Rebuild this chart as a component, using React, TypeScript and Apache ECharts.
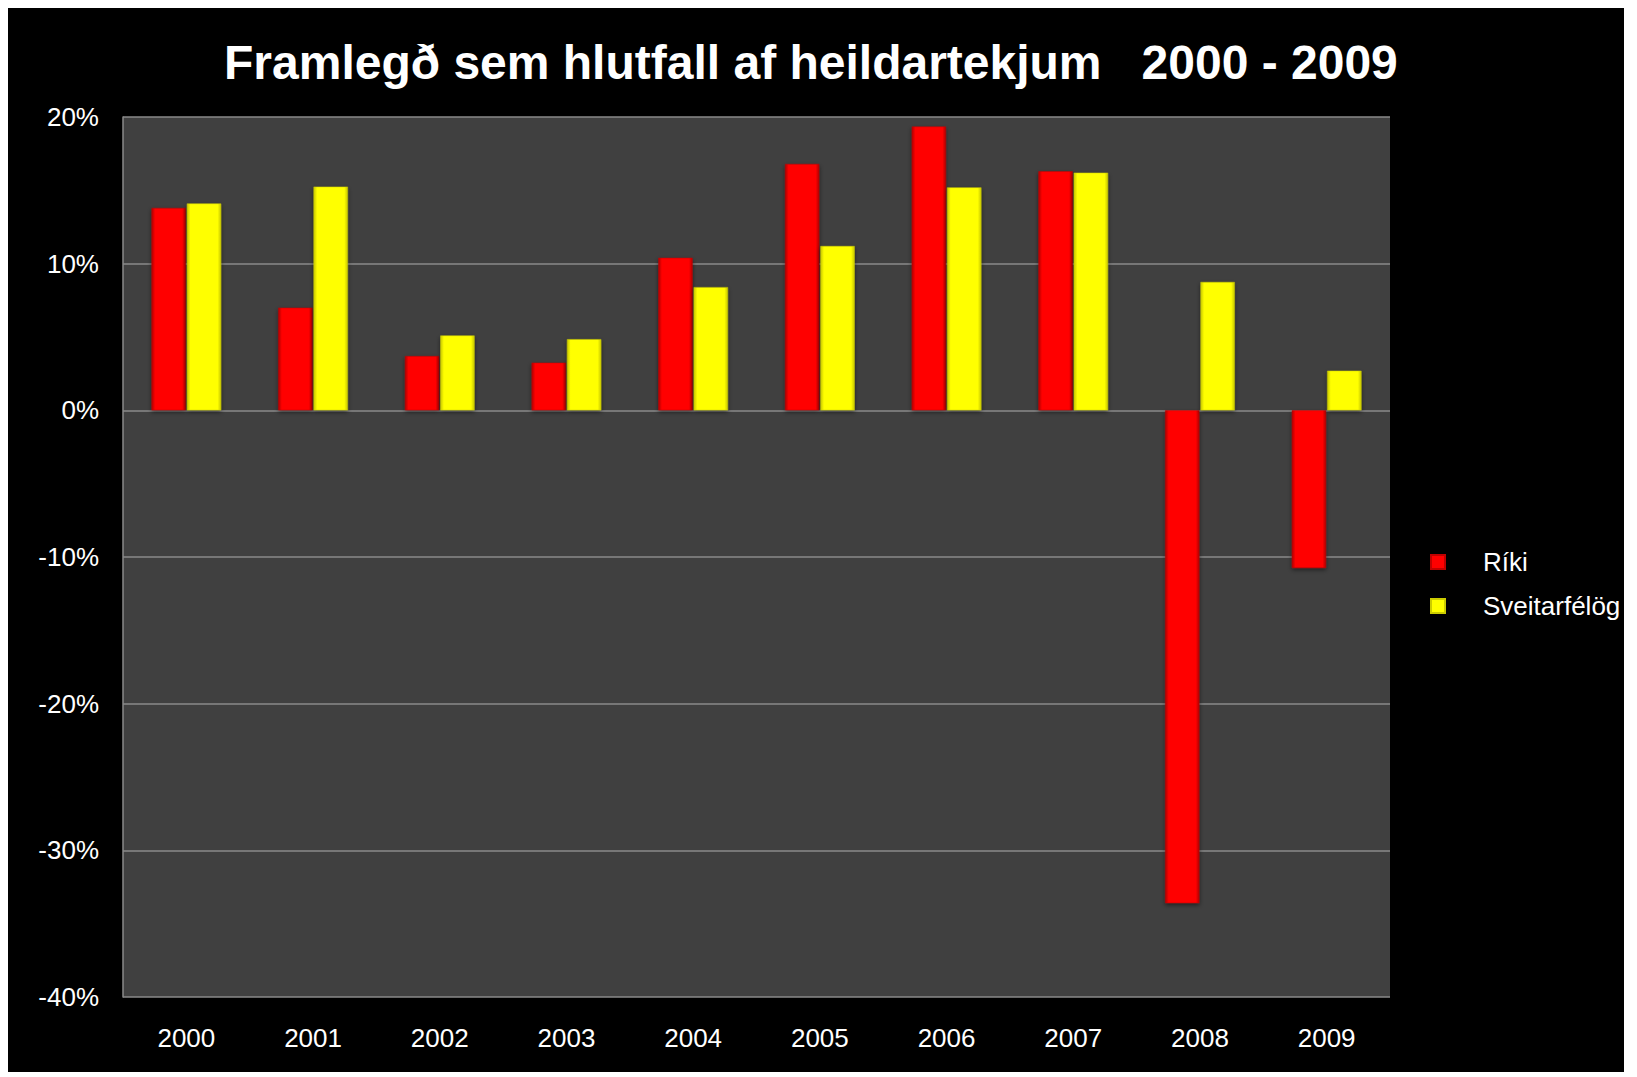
import React, { useEffect, useRef } from "react";
import * as echarts from "echarts";

const categories = ["2000", "2001", "2002", "2003", "2004", "2005", "2006", "2007", "2008", "2009"];
const rikiValues = [13.8, 7.0, 3.7, 3.25, 10.4, 16.8, 19.35, 16.3, -33.6, -10.75];
const sveitarValues = [14.1, 15.25, 5.1, 4.85, 8.4, 11.2, 15.2, 16.2, 8.75, 2.7];
const seriesNames = ["Ríki", "Sveitarfélög"];
const titleText = "Framlegð sem hlutfall af heildartekjum   2000 - 2009";

const FONT = "'Liberation Sans', Arial, sans-serif";

function barGradient(edge: string, mid: string) {
  return new echarts.graphic.LinearGradient(0, 0, 1, 0, [
    { offset: 0, color: edge },
    { offset: 0.1, color: mid },
    { offset: 0.9, color: mid },
    { offset: 1, color: edge },
  ]);
}

export default function App() {
  const ref = useRef<HTMLDivElement>(null);
  useEffect(() => {
    if (!ref.current) return;
    const chart = echarts.init(ref.current, undefined, { renderer: "svg" });
    chart.setOption({
      animation: false,
      backgroundColor: "#000000",
      textStyle: { fontFamily: FONT },
      title: {
        text: titleText,
        left: 216,
        top: 30,
        padding: 0,
        textStyle: { color: "#ffffff", fontSize: 48, fontWeight: "bold", fontFamily: FONT },
      },
      legend: {
        orient: "vertical",
        left: 1422,
        top: 541,
        padding: 0,
        itemWidth: 14,
        itemHeight: 14,
        itemGap: 18,
        icon: "rect",
        textStyle: { color: "#ffffff", fontSize: 26, fontFamily: FONT, padding: [0, 0, 0, 33] },
        data: seriesNames,
      },
      grid: {
        left: 115,
        right: 234,
        top: 109,
        bottom: 75,
        show: true,
        backgroundColor: "#404040",
        borderWidth: 0,
      },
      xAxis: {
        type: "category",
        data: categories,
        axisLine: { show: false },
        axisTick: { show: false },
        axisLabel: { color: "#ffffff", fontSize: 26, margin: 28, fontFamily: FONT },
      },
      yAxis: {
        type: "value",
        min: -40,
        max: 20,
        interval: 10,
        axisLine: { show: true, lineStyle: { color: "#8a8a8a", width: 1.5 } },
        axisTick: { show: false },
        axisLabel: { color: "#ffffff", fontSize: 26, margin: 24, formatter: "{value}%", fontFamily: FONT },
        splitLine: { show: true, lineStyle: { color: "#8a8a8a", width: 1.5 } },
      },
      series: [
        {
          name: seriesNames[0],
          type: "bar",
          data: rikiValues,
          barCategoryGap: "45%",
          barGap: "3%",
          itemStyle: {
            color: barGradient("#b00000", "#ff0000"),
            borderColor: "#c00000",
            borderWidth: 0.5,
            shadowColor: "rgba(0,0,0,0.5)",
            shadowBlur: 4,
            shadowOffsetY: 2,
          },
        },
        {
          name: seriesNames[1],
          type: "bar",
          data: sveitarValues,
          barCategoryGap: "45%",
          barGap: "3%",
          itemStyle: {
            color: barGradient("#c8c800", "#ffff00"),
            borderColor: "#cccc00",
            borderWidth: 0.5,
            shadowColor: "rgba(0,0,0,0.5)",
            shadowBlur: 4,
            shadowOffsetY: 2,
          },
        },
      ],
    });
    return () => chart.dispose();
  }, []);
  return <div ref={ref} style={{ width: 1616, height: 1064 }} />;
}
